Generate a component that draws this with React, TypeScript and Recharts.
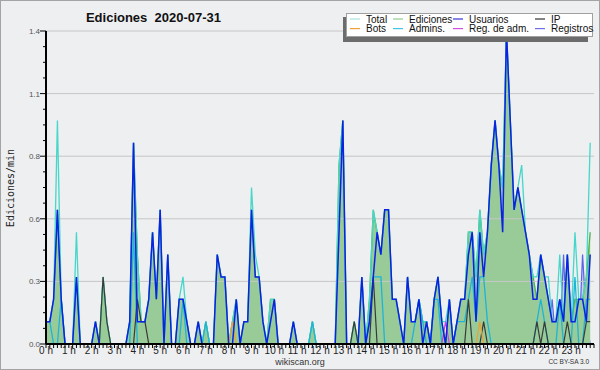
import { ComposedChart, Area, Line, XAxis, YAxis, ReferenceLine } from 'recharts';

// ── Data: edits per minute, 10-minute bins (144 per day) ─────
const total = [
  0.1, 0.1, 0.2, 1.0, 0.2, 0, 0, 0, 0.5, 0, 0, 0,
  0, 0.1, 0, 0.3, 0.1, 0, 0, 0, 0, 0, 0.1, 0.9,
  0.4, 0.1, 0.1, 0.2, 0.5, 0.2, 0.6, 0, 0.4, 0, 0, 0.2,
  0.3, 0.1, 0, 0, 0.1, 0, 0.1, 0, 0, 0.4, 0.3, 0.3,
  0, 0.1, 0.2, 0, 0.1, 0.1, 0.7, 0.4, 0.3, 0.1, 0, 0.2,
  0.2, 0, 0, 0, 0, 0.1, 0, 0, 0, 0, 0.1, 0,
  0, 0, 0, 0, 0, 0.8, 1.0, 0, 0, 0.1, 0, 0.3,
  0, 0.2, 0.6, 0.5, 0.4, 0.6, 0.6, 0.2, 0.2, 0.1, 0, 0.3,
  0.1, 0.1, 0.2, 0.1, 0.1, 0, 0.2, 0.3, 0.1, 0.1, 0.2, 0,
  0.1, 0.2, 0.2, 0.5, 0.5, 0.3, 0.6, 0.4, 0.5, 0.8, 1.0, 0.8,
  0.7, 1.4, 1.0, 0.6, 0.7, 0.8, 0.5, 0.4, 0.3, 0.3, 0.4, 0.3,
  0.3, 0.1, 0.1, 0.4, 0.1, 0.4, 0.1, 0.5, 0.2, 0.2, 0.3, 0.9,
];

const ediciones = [
  0.1, 0.1, 0.2, 0.6, 0.2, 0, 0, 0, 0.3, 0, 0, 0,
  0, 0.1, 0, 0.3, 0.1, 0, 0, 0, 0, 0, 0.1, 0.9,
  0.4, 0.1, 0.1, 0.2, 0.5, 0.2, 0.6, 0, 0.4, 0, 0, 0.2,
  0.2, 0.1, 0, 0, 0.1, 0, 0.1, 0, 0, 0.4, 0.3, 0.3,
  0, 0.1, 0.2, 0, 0.1, 0.1, 0.6, 0.3, 0.3, 0.1, 0, 0.2,
  0.2, 0, 0, 0, 0, 0.1, 0, 0, 0, 0, 0.1, 0,
  0, 0, 0, 0, 0, 0.8, 1.0, 0, 0, 0.1, 0, 0.3,
  0, 0.2, 0.6, 0.5, 0.4, 0.6, 0.6, 0.2, 0.2, 0.1, 0, 0.3,
  0.1, 0.1, 0.2, 0.1, 0.1, 0, 0.2, 0.3, 0.1, 0, 0.2, 0,
  0.1, 0.2, 0.2, 0.5, 0.5, 0.3, 0.6, 0.4, 0.5, 0.8, 1.0, 0.8,
  0.7, 1.4, 1.0, 0.6, 0.7, 0.6, 0.5, 0.4, 0.3, 0.2, 0.4, 0.3,
  0.2, 0.1, 0.1, 0.2, 0.1, 0.4, 0.1, 0.2, 0.2, 0.2, 0.3, 0.5,
];

const usuarios = [
  0.1, 0.1, 0.2, 0.6, 0.2, 0, 0, 0, 0.3, 0, 0, 0,
  0, 0.1, 0, 0, 0, 0, 0, 0, 0, 0, 0.1, 0.9,
  0.1, 0.1, 0.1, 0.2, 0.5, 0.2, 0.6, 0, 0.4, 0, 0, 0.2,
  0.2, 0.1, 0, 0, 0.1, 0, 0, 0, 0, 0.4, 0.3, 0.3,
  0, 0, 0.2, 0, 0.1, 0.1, 0.6, 0.3, 0.3, 0.1, 0, 0.1,
  0.2, 0, 0, 0, 0, 0.1, 0, 0, 0, 0, 0, 0,
  0, 0, 0, 0, 0, 0.5, 1.0, 0, 0, 0, 0, 0.3,
  0, 0.1, 0.3, 0.5, 0.4, 0.6, 0.6, 0.2, 0.2, 0.1, 0, 0.3,
  0.1, 0.1, 0.2, 0, 0.1, 0, 0.2, 0.3, 0.1, 0, 0.2, 0,
  0.1, 0.2, 0.2, 0.4, 0.5, 0.1, 0.5, 0.3, 0.5, 0.8, 1.0, 0.8,
  0.5, 1.4, 1.0, 0.6, 0.7, 0.6, 0.5, 0.4, 0.2, 0.2, 0.4, 0.3,
  0.2, 0.1, 0.1, 0.2, 0.1, 0.4, 0.1, 0.1, 0.2, 0.2, 0.1, 0.4,
];

const ip = [
  0, 0, 0, 0, 0, 0, 0, 0, 0, 0, 0, 0,
  0, 0, 0, 0.3, 0.1, 0, 0, 0, 0, 0, 0, 0,
  0.2, 0.1, 0.1, 0, 0, 0, 0, 0, 0, 0, 0, 0,
  0, 0, 0, 0, 0, 0, 0, 0, 0, 0, 0, 0,
  0, 0, 0, 0, 0, 0, 0, 0, 0, 0, 0, 0,
  0, 0, 0, 0, 0, 0, 0, 0, 0, 0, 0, 0,
  0, 0, 0, 0, 0, 0, 0, 0, 0, 0.1, 0, 0,
  0, 0, 0.3, 0, 0, 0, 0, 0, 0, 0, 0, 0,
  0, 0, 0, 0, 0, 0, 0, 0, 0, 0, 0, 0,
  0, 0, 0, 0.2, 0, 0, 0, 0.1, 0, 0, 0, 0,
  0, 0, 0, 0, 0, 0, 0, 0, 0, 0.1, 0, 0.1,
  0, 0, 0, 0, 0, 0.1, 0, 0, 0, 0, 0.1, 0.1,
];

const bots = [
  0, 0, 0, 0, 0, 0, 0, 0, 0, 0, 0, 0,
  0, 0, 0, 0, 0, 0, 0, 0, 0, 0, 0, 0,
  0, 0, 0, 0, 0, 0, 0, 0, 0, 0, 0, 0,
  0, 0, 0, 0, 0, 0, 0, 0, 0, 0, 0, 0,
  0, 0.1, 0, 0, 0, 0, 0, 0, 0, 0, 0, 0,
  0, 0, 0, 0, 0, 0, 0, 0, 0, 0, 0, 0,
  0, 0, 0, 0, 0, 0, 0, 0, 0, 0, 0, 0,
  0, 0, 0, 0, 0, 0, 0, 0, 0, 0, 0, 0,
  0, 0, 0, 0, 0, 0, 0, 0, 0, 0, 0, 0,
  0, 0, 0, 0, 0, 0, 0.1, 0, 0, 0, 0, 0,
  0, 0, 0, 0, 0, 0, 0, 0, 0, 0, 0, 0,
  0, 0, 0, 0, 0, 0, 0, 0, 0, 0, 0, 0,
];

const admins = [
  0.1, 0.1, 0, 0, 0.2, 0, 0, 0, 0, 0, 0, 0,
  0, 0, 0, 0, 0, 0, 0, 0, 0, 0, 0, 0.5,
  0, 0, 0, 0, 0, 0, 0, 0, 0, 0, 0, 0,
  0.2, 0, 0, 0, 0, 0, 0.1, 0, 0, 0, 0, 0,
  0, 0, 0, 0, 0, 0, 0, 0, 0, 0, 0, 0,
  0, 0, 0, 0, 0, 0, 0, 0, 0, 0, 0.1, 0,
  0, 0, 0, 0, 0, 0, 0, 0, 0, 0, 0, 0,
  0, 0.1, 0.3, 0.3, 0.3, 0, 0, 0, 0, 0, 0, 0,
  0, 0.1, 0.2, 0.1, 0, 0, 0.2, 0.2, 0, 0, 0, 0,
  0.1, 0.1, 0.1, 0.2, 0.3, 0.1, 0.3, 0.3, 0.1, 0, 0, 0,
  0, 0, 0, 0, 0, 0, 0, 0, 0, 0.1, 0.2, 0.1,
  0, 0, 0, 0.2, 0, 0, 0, 0.3, 0, 0, 0.2, 0.2,
];

const regAdm = [
  0, 0, 0, 0, 0, 0, 0, 0, 0, 0, 0, 0,
  0, 0, 0, 0, 0, 0, 0, 0, 0, 0, 0, 0,
  0, 0, 0, 0, 0, 0, 0, 0, 0, 0, 0, 0,
  0, 0, 0, 0, 0, 0, 0, 0, 0, 0, 0, 0,
  0, 0, 0, 0, 0, 0, 0, 0, 0, 0, 0, 0,
  0, 0, 0, 0, 0, 0, 0, 0, 0, 0, 0, 0,
  0, 0, 0, 0, 0, 0, 0, 0, 0, 0, 0, 0,
  0, 0, 0, 0, 0, 0, 0, 0, 0, 0, 0, 0,
  0, 0, 0, 0, 0, 0, 0, 0, 0, 0.1, 0, 0,
  0, 0, 0, 0, 0, 0, 0, 0, 0, 0, 0, 0,
  0, 0, 0, 0, 0, 0, 0, 0, 0, 0, 0, 0,
  0, 0, 0, 0, 0, 0, 0, 0, 0, 0, 0, 0,
];

const registros = [
  0, 0, 0, 0.4, 0, 0, 0, 0, 0.2, 0, 0, 0,
  0, 0, 0, 0, 0, 0, 0, 0, 0, 0, 0, 0,
  0, 0, 0, 0, 0, 0, 0, 0, 0, 0, 0, 0,
  0, 0, 0, 0, 0, 0, 0, 0, 0, 0, 0, 0,
  0, 0, 0, 0, 0, 0.1, 0.1, 0.1, 0, 0, 0, 0,
  0, 0, 0, 0, 0, 0, 0, 0, 0, 0, 0, 0,
  0, 0, 0, 0, 0, 0, 0, 0, 0, 0, 0, 0,
  0, 0, 0, 0, 0, 0, 0, 0, 0, 0, 0, 0,
  0, 0, 0, 0, 0.1, 0, 0, 0, 0, 0, 0.1, 0,
  0, 0, 0, 0, 0, 0.1, 0, 0, 0, 0, 0, 0,
  0, 0, 0, 0, 0, 0.2, 0.1, 0, 0, 0, 0, 0,
  0, 0.2, 0, 0, 0.4, 0, 0.1, 0, 0, 0.4, 0.1, 0,
];

const HOUR_LABELS = [
  '0 h', '1 h', '2 h', '3 h', '4 h', '5 h', '6 h', '7 h', '8 h', '9 h', '10 h', '11 h',
  '12 h', '13 h', '14 h', '15 h', '16 h', '17 h', '18 h', '19 h', '20 h', '21 h', '22 h', '23 h',
];
const Y_TICKS = [
  0, 0.07, 0.14, 0.21, 0.28, 0.35, 0.42, 0.49, 0.56, 0.63, 0.7,
  0.77, 0.84, 0.91, 0.98, 1.05, 1.12, 1.19, 1.26, 1.33, 1.4,
];
const GRID_VALUES = [0.28, 0.56, 0.84, 1.12, 1.4];

const LEGEND = [
  { name: 'Total', color: '#a6e4dc', x: 350, row: 0 },
  { name: 'Ediciones', color: '#8fce8f', x: 393, row: 0 },
  { name: 'Usuarios', color: '#3434dc', x: 453, row: 0 },
  { name: 'IP', color: '#333333', x: 535, row: 0 },
  { name: 'Bots', color: '#f2a040', x: 350, row: 1 },
  { name: 'Admins.', color: '#44c6e0', x: 393, row: 1 },
  { name: 'Reg. de adm.', color: '#d050e0', x: 453, row: 1 },
  { name: 'Registros', color: '#7070ee', x: 535, row: 1 },
];

const rows = ediciones.map((_, i) => ({
  i,
  total: total[i],
  ediciones: ediciones[i],
  usuarios: usuarios[i],
  ip: ip[i],
  bots: bots[i],
  admins: admins[i],
  regAdm: regAdm[i],
  registros: registros[i],
}));
const X_TICKS = [...rows.map(r => r.i), rows.length];

const FONT = "'Liberation Sans', Arial, sans-serif";
const AXIS_X = 46;
const AXIS_Y = 344;

function XTick({ x, payload }: any) {
  const v = payload.value as number;
  const label = v % 6 === 0 ? HOUR_LABELS[v / 6] : undefined;
  return (
    <g>
      <line x1={x} x2={x} y1={AXIS_Y} y2={AXIS_Y + 4} stroke="#000" />
      {label && (
        <text x={x} y={354} textAnchor="middle" fontFamily={FONT} fontSize={10} fill="#222">{label}</text>
      )}
    </g>
  );
}

function YTick({ y, index }: any) {
  const major = index % 4 === 0;
  return (
    <g>
      <line x1={AXIS_X - (major ? 6 : 3)} x2={AXIS_X} y1={y} y2={y} stroke="#000" />
      {major && (
        <text x={40} y={y + 3} textAnchor="end" fontFamily={FONT} fontSize={8} fill="#555">
          {Y_TICKS[index].toFixed(1)}
        </text>
      )}
    </g>
  );
}

export default function App() {
  return (
    <div style={{ position: 'relative', width: 600, height: 370, background: '#eeeff1', boxShadow: 'inset 0 0 0 1px #a4a4a4' }}>
      <style>{'body{margin:0}'}</style>
      <ComposedChart width={600} height={370} data={rows} margin={{ top: 31, right: 6, left: 0, bottom: 0 }}>
        <XAxis
          type="number" dataKey="i" domain={[0, 144]} ticks={X_TICKS} interval={0}
          height={26} tick={<XTick />} tickLine={false}
          axisLine={{ stroke: '#000', strokeWidth: 2 }} allowDataOverflow
        />
        <YAxis
          type="number" domain={[0, 1.4]} ticks={Y_TICKS} interval={0}
          width={46} tick={<YTick />} tickLine={false}
          axisLine={{ stroke: '#000', strokeWidth: 2 }} allowDataOverflow
        />
        <Area type="linear" dataKey="registros" stroke="#5a64e8" strokeWidth={1.2} fill="#c9cfee" fillOpacity={1} dot={false} activeDot={false} isAnimationActive={false} />
        <Area type="linear" dataKey="ediciones" stroke="#4cb44c" strokeWidth={1.3} fill="#98cb98" fillOpacity={1} dot={false} activeDot={false} isAnimationActive={false} />
        {GRID_VALUES.map(v => (
          <ReferenceLine key={v} y={v} stroke="#c6c6c6" strokeWidth={1} />
        ))}
        <Line type="linear" dataKey="total" stroke="#46d6ca" strokeWidth={1.3} dot={false} activeDot={false} isAnimationActive={false} />
        <Line type="linear" dataKey="admins" stroke="#1eb4d8" strokeWidth={1.3} dot={false} activeDot={false} isAnimationActive={false} />
        <Line type="linear" dataKey="ip" stroke="#3a3a3a" strokeWidth={1.2} dot={false} activeDot={false} isAnimationActive={false} />
        <Line type="linear" dataKey="bots" stroke="#f0a030" strokeWidth={1.2} dot={false} activeDot={false} isAnimationActive={false} />
        <Line type="linear" dataKey="regAdm" stroke="#c840e0" strokeWidth={1.2} dot={false} activeDot={false} isAnimationActive={false} />
        <Line type="linear" dataKey="usuarios" stroke="#0a22e4" strokeWidth={1.5} dot={false} activeDot={false} isAnimationActive={false} />
      </ComposedChart>

      <svg width={600} height={370} style={{ position: 'absolute', left: 0, top: 0, pointerEvents: 'none' }}>
        <text x={153.5} y={21.5} textAnchor="middle" fontFamily={FONT} fontWeight="bold" fontSize={13} fill="#111" style={{ whiteSpace: 'pre' }}>
          {'Ediciones  2020-07-31'}
        </text>
        <text
          x={13.5} y={188} textAnchor="middle" transform="rotate(-90 13.5 188)"
          fontFamily="'DejaVu Sans Mono', monospace" fontSize={10} fill="#222"
        >
          Ediciones/min
        </text>

        {/* legend */}
        <rect x={343} y={17} width={245} height={25} fill="#6c6c6c" />
        <rect x={346.5} y={13.5} width={246} height={23} fill="#fff" stroke="#a0a0a0" />
        {LEGEND.map(d => (
          <g key={d.name}>
            <line x1={d.x} x2={d.x + 10} y1={19 + d.row * 9.6} y2={19 + d.row * 9.6} stroke={d.color} strokeWidth={1.2} />
            <text x={d.x + 16} y={22.6 + d.row * 9.6} fontFamily={FONT} fontSize={10} fill="#111">{d.name}</text>
          </g>
        ))}

        <text x={300} y={365} textAnchor="middle" fontFamily={FONT} fontSize={9} fill="#333">wikiscan.org</text>
        <text x={589} y={364} textAnchor="end" fontFamily={FONT} fontSize={6.5} fill="#333">CC BY-SA 3.0</text>
      </svg>
    </div>
  );
}
